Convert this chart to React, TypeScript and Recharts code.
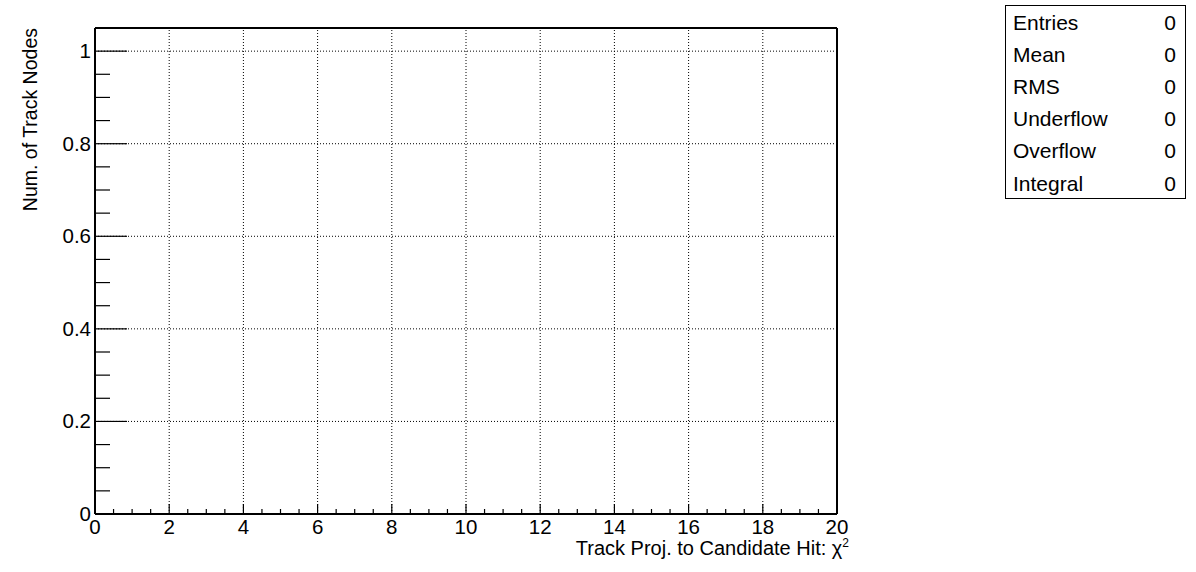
import React from "react";
import { ComposedChart, Line, XAxis, YAxis, ReferenceLine, Customized } from "recharts";

const binEdges = [0, 2, 4, 6, 8, 10, 12, 14, 16, 18, 20];
const binCounts = [0, 0, 0, 0, 0, 0, 0, 0, 0, 0, 0];

const xMajorTicks = [0, 2, 4, 6, 8, 10, 12, 14, 16, 18, 20];
const xAllTicks = [
  0, 0.5, 1, 1.5, 2, 2.5, 3, 3.5, 4, 4.5, 5, 5.5, 6, 6.5, 7, 7.5, 8, 8.5, 9, 9.5, 10,
  10.5, 11, 11.5, 12, 12.5, 13, 13.5, 14, 14.5, 15, 15.5, 16, 16.5, 17, 17.5, 18, 18.5, 19, 19.5, 20,
];
const xGridValues = [2, 4, 6, 8, 10, 12, 14, 16, 18];

const yMajorTicks = [0, 0.2, 0.4, 0.6, 0.8, 1];
const yAllTicks = [
  0, 0.05, 0.1, 0.15, 0.2, 0.25, 0.3, 0.35, 0.4, 0.45, 0.5, 0.55, 0.6, 0.65, 0.7, 0.75, 0.8, 0.85, 0.9, 0.95, 1,
];
const yGridValues = [0.2, 0.4, 0.6, 0.8, 1];
const yMax = 1.05;
const xMax = 20;

const statsLabels = ["Entries", "Mean", "RMS", "Underflow", "Overflow", "Integral"];
const statsValues = ["0", "0", "0", "0", "0", "0"];

const xTitle = "Track Proj. to Candidate Hit: ";
const yTitle = "Num. of Track Nodes";

const FONT = "'Liberation Sans', Arial, Helvetica, sans-serif";
const TICK_FS = 20.5;
const TITLE_FS = 20;
const YTITLE_FS = 19.5;
const STATS_FS = 21;

const data = binEdges.map((x, i) => ({ x, count: binCounts[i] }));

const isMajor = (v: number, list: number[]) => list.some((m) => Math.abs(m - v) < 1e-9);

const XTick = (props: any) => {
  const { x, y, payload } = props;
  const major = isMajor(payload.value, xMajorTicks);
  return (
    <g>
      <line x1={x} x2={x} y1={y} y2={y - (major ? 10 : 5)} stroke="#000" strokeWidth={1.2} />
      {major && (
        <text x={x} y={y + 20} textAnchor="middle" fontFamily={FONT} fontSize={TICK_FS} fill="#000">
          {payload.value}
        </text>
      )}
    </g>
  );
};

const YTick = (props: any) => {
  const { x, y, payload } = props;
  const major = isMajor(payload.value, yMajorTicks);
  return (
    <g>
      <line x1={x} x2={x + (major ? 32 : 15)} y1={y} y2={y} stroke="#000" strokeWidth={1.2} />
      {major && (
        <text x={x - 4} y={y + 7} textAnchor="end" fontFamily={FONT} fontSize={TICK_FS} fill="#000">
          {payload.value}
        </text>
      )}
    </g>
  );
};

const Overlay = () => (
  <g>
    <text
      transform="translate(37,28) rotate(-90)"
      textAnchor="end"
      fontFamily={FONT}
      fontSize={YTITLE_FS}
      fill="#000"
    >
      {yTitle}
    </text>
    <text x={849} y={555} textAnchor="end" fontFamily={FONT} fontSize={TITLE_FS} fill="#000">
      {xTitle}χ
      <tspan dy={-8} fontSize={12}>2</tspan>
    </text>
    <rect x={1005.5} y={5.5} width={180} height={193} fill="#fff" stroke="#000" strokeWidth={1} />
    {statsLabels.map((label, i) => (
      <g key={label}>
        <text x={1013} y={29.5 + i * 32.2} fontFamily={FONT} fontSize={STATS_FS} fill="#000">
          {label}
        </text>
        <text x={1176} y={29.5 + i * 32.2} textAnchor="end" fontFamily={FONT} fontSize={STATS_FS} fill="#000">
          {statsValues[i]}
        </text>
      </g>
    ))}
  </g>
);

export default function App() {
  return (
    <div style={{ position: "absolute", left: 0, top: 0, width: 1196, height: 572, background: "#fff" }}>
      <ComposedChart
        width={1196}
        height={572}
        data={data}
        margin={{ top: 28, right: 359, bottom: 0, left: 0 }}
      >
        <XAxis
          dataKey="x"
          type="number"
          domain={[0, xMax]}
          ticks={xAllTicks}
          interval={0}
          tick={<XTick />}
          tickLine={false}
          tickSize={0}
          tickMargin={0}
          axisLine={{ stroke: "#000", strokeWidth: 2 }}
          height={58}
          allowDataOverflow
        />
        <YAxis
          type="number"
          domain={[0, yMax]}
          ticks={yAllTicks}
          interval={0}
          tick={<YTick />}
          tickLine={false}
          tickSize={0}
          tickMargin={0}
          axisLine={{ stroke: "#000", strokeWidth: 2 }}
          width={95}
          allowDataOverflow
        />
        {yGridValues.map((v) => (
          <ReferenceLine key={"gy" + v} y={v} stroke="#000" strokeWidth={1} strokeDasharray="1 2" />
        ))}
        {xGridValues.map((v) => (
          <ReferenceLine key={"gx" + v} x={v} stroke="#000" strokeWidth={1} strokeDasharray="1 2" />
        ))}
        <ReferenceLine y={yMax} stroke="#000" strokeWidth={2} />
        <ReferenceLine x={xMax} stroke="#000" strokeWidth={2} />
        <Line
          dataKey="count"
          type="stepAfter"
          stroke="#000080"
          strokeWidth={2}
          dot={false}
          isAnimationActive={false}
        />
        <Customized component={Overlay} />
      </ComposedChart>
    </div>
  );
}
